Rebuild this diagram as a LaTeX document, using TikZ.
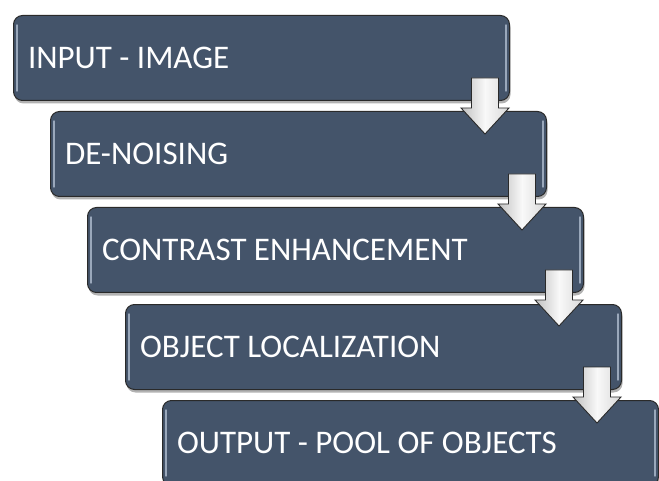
\documentclass[tikz,border=0pt]{standalone}
\usepackage{fontspec}
\setmainfont{Carlito}
\usetikzlibrary{shadows}
\definecolor{slate}{HTML}{44546A}
\definecolor{edgec}{HTML}{2A2A2A}
\definecolor{glint}{HTML}{9AA8BB}
\newcommand{\steplabel}[1]{\makebox[467pt][l]{#1}}
\tikzset{
  stepbox/.style={rectangle, rounded corners=9pt, fill=slate, draw=edgec,
    line width=1pt, minimum height=85pt, minimum width=496pt,
    inner xsep=14.5pt, inner ysep=0pt, text=white,
    font=\fontsize{33}{36}\selectfont, anchor=north west,
    drop shadow={shadow xshift=1pt, shadow yshift=-3pt, opacity=0.3, fill=black}},
  glintline/.style={glint, line width=1.4pt, line cap=round},
  downarrow/.style={draw=edgec, line width=0.9pt, line join=miter,
    left color=gray!50, right color=gray!30, middle color=gray!5}
}
\newcommand{\downblock}[1]{%
  \path[downarrow] (#1) ++(-13.5,0) -- ++(0,-30) -- ++(-10.5,0)
    -- ++(24,-26) -- ++(24,26) -- ++(-10.5,0) -- ++(0,30) -- cycle;}
\begin{document}
\begin{tikzpicture}[x=1pt,y=1pt]
  \useasboundingbox (0,0) rectangle (659,480);
  \clip (0,0) rectangle (659,480);

  % process steps, each shifted right and down
  \node[stepbox] (b1) at (13,465) {\steplabel{INPUT - IMAGE}};
  \node[stepbox] (b2) at (50,369) {\steplabel{DE-NOISING}};
  \node[stepbox] (b3) at (87,273) {\steplabel{CONTRAST ENHANCEMENT}};
  \node[stepbox] (b4) at (125,176) {\steplabel{OBJECT LOCALIZATION}};
  \node[stepbox] (b5) at (162,80) {\steplabel{OUTPUT - POOL OF OBJECTS}};

  % light bevel strips along the vertical edges
  \foreach \b in {b1,b2,b3,b4,b5} {
    \draw[glintline] ([xshift=4pt,yshift=-10pt]\b.north west) -- ([xshift=4pt,yshift=10pt]\b.south west);
    \draw[glintline] ([xshift=-4pt,yshift=-10pt]\b.north east) -- ([xshift=-4pt,yshift=10pt]\b.south east);
  }

  % block arrows leading from each step to the next
  \foreach \a/\b in {b1/b2,b2/b3,b3/b4,b4/b5} {
    \coordinate (top-\a) at ([xshift=-25pt,yshift=23pt]\a.south east);
    \downblock{top-\a}
  }
\end{tikzpicture}
\end{document}
